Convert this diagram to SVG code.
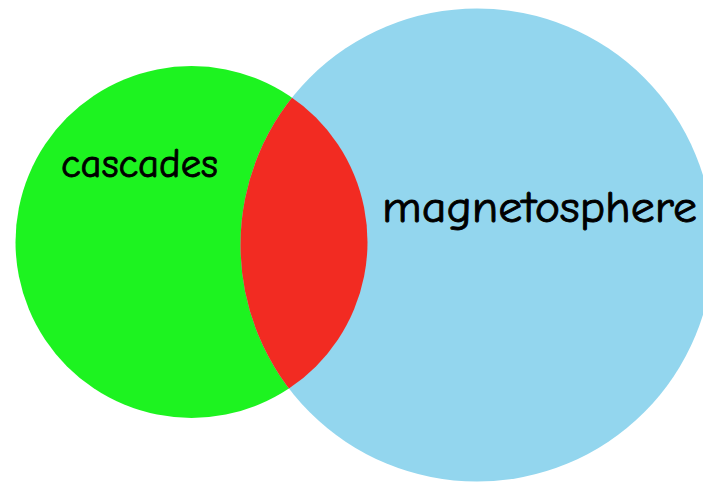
<svg xmlns="http://www.w3.org/2000/svg" width="703" height="482" viewBox="0 0 703 482">
  <style>
    .label { font-family: "Comic Sans MS", "Comic Neue", "DejaVu Sans", sans-serif; fill: #000; stroke: #000; stroke-width: 0.9; stroke-linejoin: round; }
  </style>
  <defs>
    <clipPath id="clip-magnetosphere">
      <circle cx="477" cy="245" r="236.5"/>
    </clipPath>
  </defs>
  <rect width="703" height="482" fill="#ffffff"/>

  <!-- set: cascades -->
  <g id="set-cascades">
    <circle cx="191.5" cy="242" r="176" fill="#1df320"/>
  </g>

  <!-- set: magnetosphere -->
  <g id="set-magnetosphere">
    <circle cx="477" cy="245" r="236.5" fill="#93d6ee"/>
  </g>

  <!-- overlap of both sets -->
  <g id="overlap">
    <circle cx="191.5" cy="242" r="176" fill="#f22b22" clip-path="url(#clip-magnetosphere)"/>
  </g>

  <g id="labels">
    <text class="label" x="61" y="177" font-size="41" textLength="157" lengthAdjust="spacingAndGlyphs">cascades</text>
    <text class="label" x="382" y="222" font-size="45" textLength="315" lengthAdjust="spacingAndGlyphs">magnetosphere</text>
  </g>
</svg>
